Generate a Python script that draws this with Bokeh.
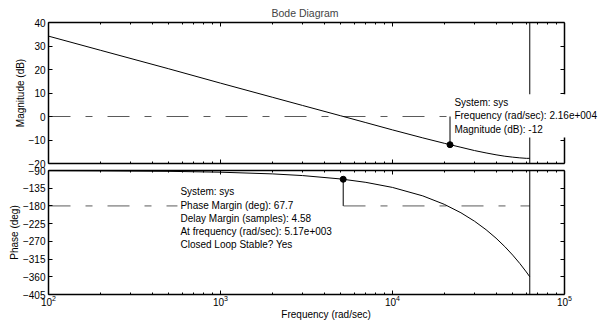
from bokeh.plotting import figure
from bokeh.models import (LogAxis, LinearAxis, FixedTicker, Span, Label, Range1d,
                          CustomJSTickFormatter)
from bokeh.layouts import column
from bokeh.embed import file_html
from bokeh.resources import INLINE

# ---- data ----
freq = [100, 200, 500, 1000, 2000, 3000, 5000, 7000, 10000, 15000, 20000,
        25000, 30000, 35000, 40000, 45000, 50000, 55000, 60000, 62832]
mag_db = [34.2, 28.2, 20.3, 14.2, 8.2, 4.7, 0.3, -2.6, -5.7, -9.1, -11.4,
          -13.1, -14.5, -15.5, -16.3, -16.9, -17.3, -17.6, -17.8, -17.8]
phase_deg = [-90.4, -90.9, -92.1, -94.3, -98.6, -102.9, -111.5, -120.1, -133.0,
             -154.5, -175.9, -197.4, -218.9, -240.4, -261.9, -283.4, -304.9,
             -326.3, -347.8, -360.0]

gm_freq = 21600      # data tip on magnitude
gm_mag = -12
pm_freq = 5170       # phase margin point
pm_phase = -112.3
nyquist = 62832
zero_db = 0
minus180 = -180

x_lo, x_hi = 1e2, 1e5
x_view_hi = 1.755e5          # frame continues past the axes box so tips are not clipped
x_ticks = [1e2, 1e3, 1e4, 1e5]
x_minor = [k * 10 ** d for d in (2, 3, 4) for k in range(2, 10)]
mag_ticks = [-20, -10, 0, 10, 20, 30, 40]
phase_ticks = [-405, -360, -315, -270, -225, -180, -135, -90]

tip1_text = "System: sys\nFrequency (rad/sec): 2.16e+004\nMagnitude (dB): -12"
tip2_text = ("System: sys\nPhase Margin (deg): 67.7\nDelay Margin (samples): 4.58\n"
             "At frequency (rad/sec): 5.17e+003\nClosed Loop Stable? Yes")

FONT = "Liberation Sans"


def style_axis(ax, ticks, minor=None, labels=True):
    ax.ticker = FixedTicker(ticks=ticks, minor_ticks=minor or [])
    ax.major_tick_in = 4
    ax.major_tick_out = 0
    ax.minor_tick_in = 2
    ax.minor_tick_out = 0
    ax.axis_line_width = 1.5
    ax.axis_line_color = "black"
    ax.major_tick_line_color = "black"
    ax.minor_tick_line_color = "black"
    ax.major_label_text_font = FONT
    ax.major_label_text_font_size = "10px"
    ax.major_label_text_color = "black"
    ax.axis_label_text_font = FONT
    ax.axis_label_text_font_size = "10px"
    ax.axis_label_text_font_style = "normal"
    ax.axis_label_text_color = "black"
    if not labels:
        ax.formatter = CustomJSTickFormatter(code="return ''")
        ax.major_label_standoff = 0
        ax.axis_label_standoff = 0


x_range = Range1d(x_lo, x_view_hi)


def make_panel(height, y_lo, y_hi, yticks, ylabel, top_border, bottom_border,
               bottom_labels):
    p = figure(width=606, height=height, x_axis_type="log", x_range=x_range,
               y_range=Range1d(y_lo, y_hi), output_backend="svg",
               toolbar_location=None, min_border_left=48, min_border_right=0,
               min_border_top=top_border, min_border_bottom=bottom_border)
    p.grid.visible = False
    p.outline_line_color = None
    bx = p.below[0]
    style_axis(bx, x_ticks, x_minor, labels=bottom_labels)
    bx.bounds = (x_lo, x_hi)
    ly = p.left[0]
    style_axis(ly, yticks)
    ly.axis_label = ylabel
    ly.major_label_standoff = 3
    ly.axis_label_standoff = 0
    top = LogAxis(bounds=(x_lo, x_hi))
    style_axis(top, x_ticks, x_minor, labels=False)
    p.add_layout(top, "above")
    right = LinearAxis(fixed_location=x_hi)
    style_axis(right, yticks, labels=False)
    p.add_layout(right, "right")
    return p, bx


# ---------------- magnitude panel ----------------
p1, _ = make_panel(171, -20, 40, mag_ticks, "Magnitude (dB)", 22, 8, False)
p1.title.text = "Bode Diagram"
p1.title.align = "left"
p1.title.offset = 223
p1.title.text_font = FONT
p1.title.text_font_size = "10.5px"
p1.title.text_font_style = "normal"
p1.title.text_line_height = 1.0
p1.title.standoff = 8

p1.line([freq[0], freq[-1]], [zero_db, zero_db], line_color="#5a5a5a",
        line_width=1, line_dash="22 15 7 15")
p1.line(freq, mag_db, line_color="black", line_width=1)
p1.add_layout(Span(location=nyquist, dimension="height", line_color="black",
                   line_width=1))
p1.line([gm_freq, gm_freq], [zero_db, gm_mag], line_color="black", line_width=1)
p1.scatter([gm_freq], [gm_mag], size=6, color="black")
p1.add_layout(Label(x=2.2e4, y=9.5, text=tip1_text, text_align="left",
                    text_baseline="top", text_font=FONT, text_font_size="10px",
                    text_line_height=1.2, text_color="black", level="overlay",
                    background_fill_color="white", padding=3))

# ---------------- phase panel ----------------
p2, bx2 = make_panel(160, -405, -90, phase_ticks, "Phase (deg)", 8, 27, True)
p2.margin = (-9, 0, 0, 0)
p2.border_fill_color = None
bx2.axis_label = "Frequency  (rad/sec)"
bx2.major_label_standoff = 0
bx2.axis_label_standoff = 0

p2.line([freq[0], freq[-1]], [minus180, minus180], line_color="#5a5a5a",
        line_width=1, line_dash="22 15 7 15")
p2.line(freq, phase_deg, line_color="black", line_width=1)
p2.add_layout(Span(location=nyquist, dimension="height", line_color="black",
                   line_width=1))
p2.line([pm_freq, pm_freq], [minus180, pm_phase], line_color="black", line_width=1)
p2.scatter([pm_freq], [pm_phase], size=6, color="black")
p2.add_layout(Label(x=562, y=-122.8, text=tip2_text, text_align="left",
                    text_baseline="top", text_font=FONT, text_font_size="10px",
                    text_line_height=1.2, text_color="black", level="overlay",
                    background_fill_color="white", padding=3))

layout = column(p1, p2, spacing=0)
open("out.html", "w").write(file_html(layout, INLINE))
